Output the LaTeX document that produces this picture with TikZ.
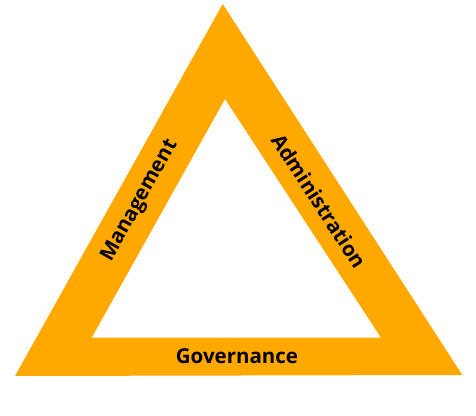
\documentclass[tikz,border=0pt]{standalone}
\usepackage{fontspec}
\setmainfont{Open Sans}
\definecolor{tri}{HTML}{FFA800}
\tikzset{lbl/.style={font=\bfseries\fontsize{20.5}{24}\selectfont, text=black, inner sep=0pt}}
\begin{document}
\begin{tikzpicture}[x=1pt,y=-1pt]
\useasboundingbox (0,0) rectangle (476,415);
\coordinate (ot) at (222.7,4);
\coordinate (ol) at (15,376);
\coordinate (or) at (462.3,375);
\coordinate (it) at (225,99);
\coordinate (il) at (91.7,337.7);
\coordinate (ir) at (381,337.7);
\fill[tri, even odd rule] (ot) -- (or) -- (ol) -- cycle (it) -- (ir) -- (il) -- cycle;
\node[lbl] (gov) at (237,356) {Governance};
\node[lbl, rotate=60.8] (man) at (140,201) {Management};
\node[lbl, rotate=-57.1] (adm) at (319,201) {Administration};
\end{tikzpicture}
\end{document}
